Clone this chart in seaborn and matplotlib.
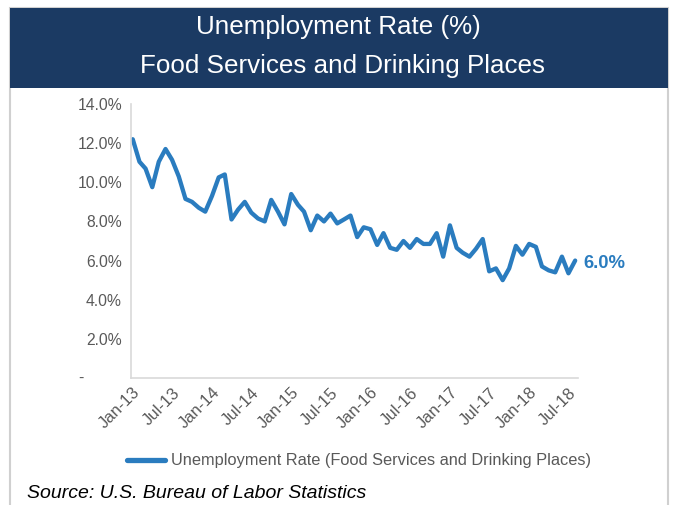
import matplotlib
matplotlib.use("Agg")
import matplotlib.pyplot as plt
from matplotlib.patches import Rectangle
from matplotlib.lines import Line2D
import seaborn as sns
import pandas as pd

# ---- data ----
title_line1 = "Unemployment Rate (%)"
title_line2 = "Food Services and Drinking Places"
series_name = "Unemployment Rate (Food Services and Drinking Places)"
source_text = "Source: U.S. Bureau of Labor Statistics"
start_month = "2013-01-01"
rate = [12.2, 11.05, 10.7, 9.75, 11.05, 11.7, 11.15, 10.3, 9.15, 9.0, 8.7, 8.5,
        9.3, 10.25, 10.4, 8.1, 8.6, 9.0, 8.45, 8.15, 8.0, 9.1, 8.5, 7.85,
        9.4, 8.85, 8.5, 7.55, 8.3, 8.0, 8.4, 7.9, 8.1, 8.3, 7.2, 7.7,
        7.6, 6.8, 7.4, 6.65, 6.55, 7.0, 6.65, 7.1, 6.85, 6.85, 7.4, 6.2,
        7.8, 6.65, 6.4, 6.2, 6.6, 7.1, 5.45, 5.6, 5.0, 5.6, 6.75, 6.3,
        6.85, 6.7, 5.7, 5.5, 5.4, 6.2, 5.35, 6.0]
y_ticks = [0, 2, 4, 6, 8, 10, 12, 14]
zero_label = "-"
y_tick_labels = ["", "2.0%", "4.0%", "6.0%", "8.0%", "10.0%", "12.0%", "14.0%"]
x_tick_labels = ["Jan-13", "Jul-13", "Jan-14", "Jul-14", "Jan-15", "Jul-15",
                 "Jan-16", "Jul-16", "Jan-17", "Jul-17", "Jan-18", "Jul-18"]

months = pd.date_range(start_month, periods=len(rate), freq="MS")
df = pd.DataFrame({"month": months, "rate": rate})
x_ticks = pd.date_range(start_month, periods=len(x_tick_labels), freq="6MS")

# ---- style ----
sns.set_style("white")
plt.rcParams["font.family"] = ["Liberation Sans", "DejaVu Sans"]

W, H = 677, 505
fig = plt.figure(figsize=(W / 100, H / 100), dpi=100)
fig.patch.set_facecolor("white")

def fx(px):
    return px / W

def fy(py):
    return 1 - py / H

line_color = "#2A7CBF"
navy = "#1B3A63"
grey_text = "#595959"

# outer border + header box
fig.patches.append(Rectangle((fx(10), fy(510)), fx(668) - fx(10), fy(8) - fy(510),
                             transform=fig.transFigure, fill=False,
                             edgecolor="#D0D0D0", linewidth=1.5, zorder=0))
fig.patches.append(Rectangle((fx(10), fy(88)), fx(668) - fx(10), fy(8) - fy(88),
                             transform=fig.transFigure, facecolor=navy,
                             edgecolor=navy, linewidth=0, zorder=1))
fig.text(fx(338), fy(27), title_line1, color="white", fontsize=18.7,
         ha="center", va="center")
fig.text(fx(343), fy(66), title_line2, color="white", fontsize=18.7,
         ha="center", va="center")

ax = fig.add_axes([fx(131), fy(378), fx(578) - fx(131), fy(104) - fy(378)])
sns.lineplot(data=df, x="month", y="rate", ax=ax, color=line_color,
             linewidth=3.1, legend=False)

ax.set_ylim(0, 14)
ax.set_xlim(pd.Timestamp("2012-12-24"), pd.Timestamp("2018-08-14"))
ax.set_yticks(y_ticks)
ax.set_yticklabels(y_tick_labels)
ax.set_xticks(x_ticks)
ax.set_xticklabels(x_tick_labels, rotation=45, ha="right", rotation_mode="anchor")
ax.set_xlabel("")
ax.set_ylabel("")
ax.tick_params(axis="y", length=0, pad=6.5, labelsize=11.3, labelcolor=grey_text)
ax.tick_params(axis="x", length=4, width=1, color="#BFBFBF", pad=1,
               labelsize=12, labelcolor=grey_text, direction="out")
# accounting-style dash for zero, left-aligned in the label column
ax.text(-53 / 447, y_ticks[0], zero_label, transform=ax.get_yaxis_transform(),
        ha="left", va="center", fontsize=11.3, color=grey_text)
for s in ["top", "right"]:
    ax.spines[s].set_visible(False)
ax.spines["left"].set_color("#D9D9D9")
ax.spines["left"].set_linewidth(1.2)
ax.spines["bottom"].set_color("#D9D9D9")
ax.spines["bottom"].set_linewidth(1.2)
ax.grid(False)

# end label
ax.annotate(f"{rate[-1]:.1f}%", xy=(months[-1], rate[-1]), xytext=(6, -2),
            textcoords="offset points", ha="left", va="center",
            color=line_color, fontsize=13.3, fontweight="bold")

# legend
handle = Line2D([], [], color=line_color, linewidth=3.8)
fig.legend([handle], [series_name], loc="center",
           bbox_to_anchor=(fx(359), fy(461)), frameon=False, fontsize=11.8,
           handlelength=2.3, handletextpad=0.4, labelcolor=grey_text)

fig.text(fx(27), fy(494), source_text, fontsize=14, style="italic",
         color="black", ha="left", va="center")

fig.savefig("out.png", dpi=100, facecolor="white")
